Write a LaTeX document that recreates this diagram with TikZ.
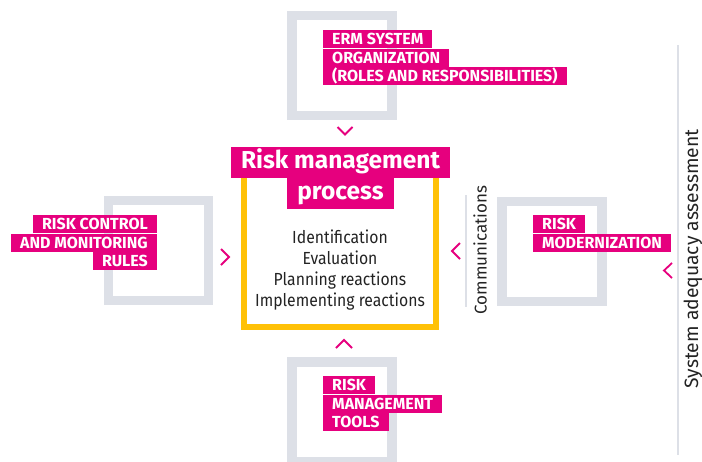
\documentclass[tikz,border=0pt]{standalone}
\usepackage{fontspec}
\setmainfont{Fira Sans}
\newfontfamily\narrowfont{Fira Sans}[FakeStretch=0.9]
\usetikzlibrary{positioning}
\definecolor{ermpink}{RGB}{230,0,126}
\definecolor{framegray}{RGB}{221,224,231}
\definecolor{coreyellow}{RGB}{255,193,7}
\definecolor{inkgray}{RGB}{35,35,35}

\begin{document}
\begin{tikzpicture}[x=1pt,y=-1pt]
\tikzset{
  frame/.style={draw=framegray,line width=9.5pt,minimum width=100pt,
                minimum height=100pt,inner sep=0pt},
  tagline/.style={fill=ermpink,text=white,inner xsep=9pt,inner ysep=0pt,
                  font=\fontsize{16}{16}\selectfont\bfseries,
                  minimum height=18pt,text height=11pt,text depth=0pt},
  title/.style={fill=ermpink,text=white,inner xsep=10pt,inner ysep=0pt,
                font=\fontsize{24.5}{24.5}\selectfont\bfseries,
                minimum height=30.5pt,text height=17pt,text depth=4pt},
  core/.style={draw=coreyellow,line width=6pt,minimum width=192pt,
               minimum height=164pt,inner sep=0pt},
  sideline/.style={draw=framegray,line width=2.5pt},
  sidetext/.style={rotate=90,text=inkgray,font=\fontsize{17}{17}\selectfont},
  chev/.style={draw=ermpink,line width=1.8pt}
}
\useasboundingbox (0,0) rectangle (702,461);
\clip (0,0) rectangle (702,461);

% frames around the centre
\node[frame] (topframe) at (342,65.5) {};
\node[frame] (leftframe) at (158.5,250.5) {};
\node[frame] (rightframe) at (552,251.5) {};
\node[frame] (bottomframe) at (342,411.75) {};

% central process
\node[core] (core) at (340,245) {};
\node[title,anchor=north] (rmp1) at (340.5,147) {Risk management};
\node[title,below=0pt of rmp1] (rmp2) {process};
\node[text=inkgray,align=center,font=\narrowfont\fontsize{17.5}{21.3}\selectfont] (steps) at (340,270)
  {Identification\\Evaluation\\Planning reactions\\Implementing reactions};

% ERM system organization
\node[tagline,anchor=north west] (org1) at (323,30) {ERM SYSTEM};
\node[tagline,below right=0pt and 0pt of org1.south west] (org2) {ORGANIZATION};
\node[tagline,below right=0pt and 0pt of org2.south west] (org3) {(ROLES AND RESPONSIBILITIES)};

% risk control and monitoring rules
\node[tagline,anchor=north east] (ctl1) at (157,215) {RISK CONTROL};
\node[tagline,below left=0pt and 0pt of ctl1.south east] (ctl2) {AND MONITORING};
\node[tagline,below left=0pt and 0pt of ctl2.south east] (ctl3) {RULES};

% risk modernization
\node[tagline,anchor=north west] (mod1) at (533,215) {RISK};
\node[tagline,below right=0pt and 0pt of mod1.south west] (mod2) {MODERNIZATION};

% risk management tools
\node[tagline,anchor=north west] (tool1) at (323,376) {RISK};
\node[tagline,below right=0pt and 0pt of tool1.south west] (tool2) {MANAGEMENT};
\node[tagline,below right=0pt and 0pt of tool2.south west] (tool3) {TOOLS};

% side texts
\draw[sideline] (466,195) -- (466,307);
\node[sidetext] (comm) at (480,250) {Communications};
\draw[sideline] (678,45) -- (678,455);
\node[sidetext,font=\fontsize{19.3}{19}\selectfont] (adequacy) at (693,259) {System adequacy assessment};

% chevrons
\draw[chev] (337.5,127) -- (345,134.5) -- (352.5,127);
\draw[chev] (221,249) -- (229,257) -- (221,265);
\draw[chev] (460,243) -- (452,251) -- (460,259);
\draw[chev] (672,263) -- (664,270.5) -- (672,278);
\draw[chev] (336,348) -- (344,340) -- (352,348);
\end{tikzpicture}
\end{document}
